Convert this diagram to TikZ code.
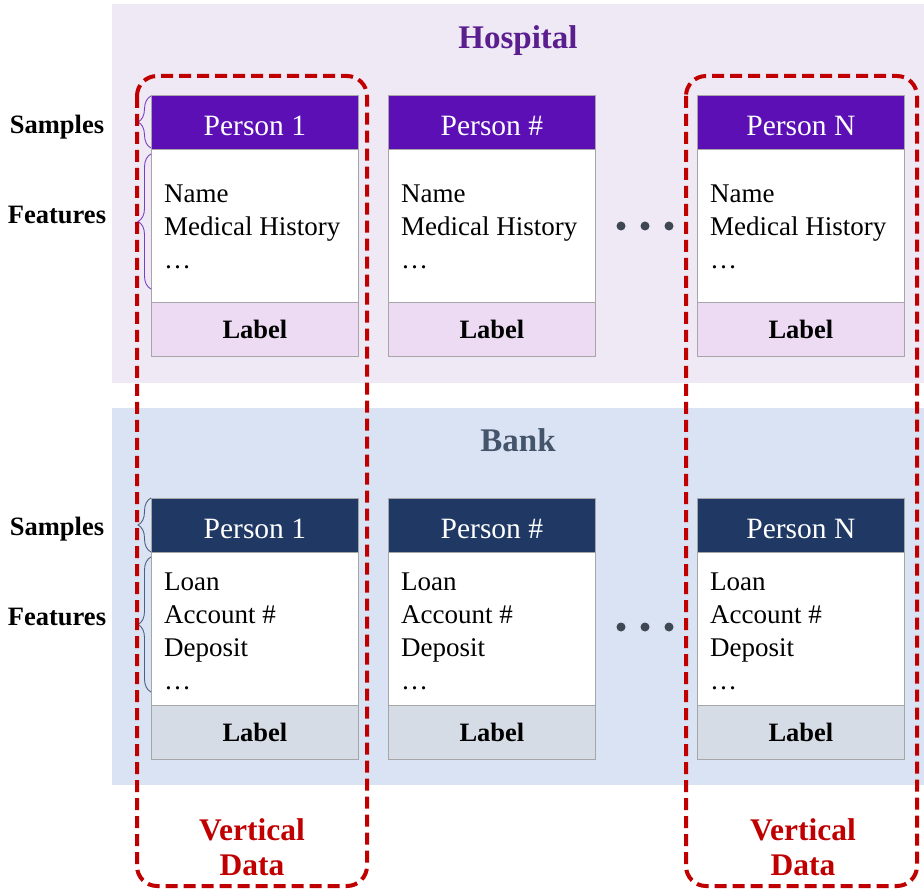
\documentclass[tikz,border=0pt]{standalone}
\usepackage{fontspec}
\setmainfont{Liberation Serif}
\usetikzlibrary{decorations.pathreplacing}

\definecolor{hospbg}{HTML}{EFE9F5}
\definecolor{bankbg}{HTML}{DAE3F3}
\definecolor{hosphead}{HTML}{5B0FB5}
\definecolor{bankhead}{HTML}{1F3864}
\definecolor{hosplabel}{HTML}{EDDAF3}
\definecolor{banklabel}{HTML}{D6DCE5}
\definecolor{hosptitle}{HTML}{5A1E8E}
\definecolor{banktitle}{HTML}{44546A}
\definecolor{vertred}{HTML}{C00000}
\definecolor{dotgray}{HTML}{3F4752}
\definecolor{cardline}{HTML}{A6A6A6}

\tikzset{
  headbox/.style={draw=cardline, line width=0.8pt, anchor=north west, inner sep=0pt,
    minimum width=207pt, minimum height=54pt, text=white,
    text height=26pt, text depth=0pt,
    font=\fontsize{29.5}{34}\selectfont},
  bodybox/.style={draw=cardline, line width=0.8pt, fill=white, anchor=north west, inner sep=0pt,
    minimum width=207pt},
  lblbox/.style={draw=cardline, line width=0.8pt, anchor=north west, inner sep=0pt,
    minimum width=207pt, minimum height=54pt, font=\bfseries\fontsize{26.5}{30}\selectfont},
  feat/.style={anchor=base west, inner sep=0pt, font=\fontsize{27}{31}\selectfont},
  sidelbl/.style={inner sep=0pt, font=\bfseries\fontsize{26.5}{30}\selectfont},
  title/.style={inner sep=0pt, font=\bfseries\fontsize{33}{38}\selectfont},
  vlabel/.style={inner sep=0pt, align=center, text=vertred,
    font=\bfseries\fontsize{31.5}{35}\selectfont},
  grp/.style={draw=vertred, line width=4pt, dash pattern=on 12pt off 6pt, rounded corners=20pt},
  bracel/.style={decorate, decoration={brace, amplitude=13pt}, line width=0.9pt},
  dot/.style={circle, fill=dotgray, inner sep=0pt, minimum size=9pt},
}

\begin{document}
\begin{tikzpicture}[x=1pt,y=-1pt]
\useasboundingbox (0,0) rectangle (924,890);

% background panels
\fill[hospbg] (112,4) rectangle (924,383);
\fill[bankbg] (112,408) rectangle (924,785);

\node[title, text=hosptitle] (hosp) at (518,41) {Hospital};
\node[title, text=banktitle] (bank) at (518,440) {Bank};

% hospital cards
\foreach \x/\n/\id in {151/1/a, 388/\#/b, 697/N/c}{
  \node[bodybox, minimum height=153pt] (hb\id) at (\x,149) {};
  \node[headbox, fill=hosphead] (hh\id) at (\x,95) {Person \n};
  \node[lblbox, fill=hosplabel] (hl\id) at (\x,302) {Label};
  \node[feat] (hfa\id) at (\x+13,203) {Name};
  \node[feat] (hfb\id) at (\x+13,236) {Medical History};
  \node[feat] (hfc\id) at (\x+13,269) {\dots};
}

% bank cards
\foreach \x/\n/\id in {151/1/a, 388/\#/b, 697/N/c}{
  \node[bodybox, minimum height=153pt] (bb\id) at (\x,552) {};
  \node[headbox, fill=bankhead] (bh\id) at (\x,498) {Person \n};
  \node[lblbox, fill=banklabel] (bl\id) at (\x,705) {Label};
  \node[feat] (bfa\id) at (\x+13,590) {Loan};
  \node[feat] (bfb\id) at (\x+13,623) {Account \#};
  \node[feat] (bfc\id) at (\x+13,656) {Deposit};
  \node[feat] (bfd\id) at (\x+13,689) {\dots};
}

% ellipsis dots between cards
\foreach \x/\k in {621/1, 645/2, 669/3}{
  \node[dot] (hd\k) at (\x,226) {};
  \node[dot] (bd\k) at (\x,627) {};
}

% side labels and braces
\node[sidelbl] (hs) at (57,127) {Samples};
\node[sidelbl] (hf) at (57,215) {Features};
\node[sidelbl] (bs) at (57,529) {Samples};
\node[sidelbl] (bf) at (57,617) {Features};

\coordinate (hsb) at (151,148); \coordinate (hst) at (151,96);
\coordinate (hfb) at (151,289); \coordinate (hft) at (151,154);
\coordinate (bsb) at (151,552); \coordinate (bst) at (151,498);
\coordinate (bfb) at (151,692); \coordinate (bft) at (151,557);
\draw[bracel, draw=hosphead!80] (hsb) -- (hst);
\draw[bracel, draw=hosphead!80] (hfb) -- (hft);
\draw[bracel, draw=bankhead!80] (bsb) -- (bst);
\draw[bracel, draw=bankhead!80] (bfb) -- (bft);

% vertical data groups
\draw[grp] (137,76) rectangle (367,886);
\draw[grp] (686,76) rectangle (917,886);
\node[vlabel] (v1) at (252,847) {Vertical\\Data};
\node[vlabel] (v2) at (803,847) {Vertical\\Data};
\end{tikzpicture}
\end{document}
